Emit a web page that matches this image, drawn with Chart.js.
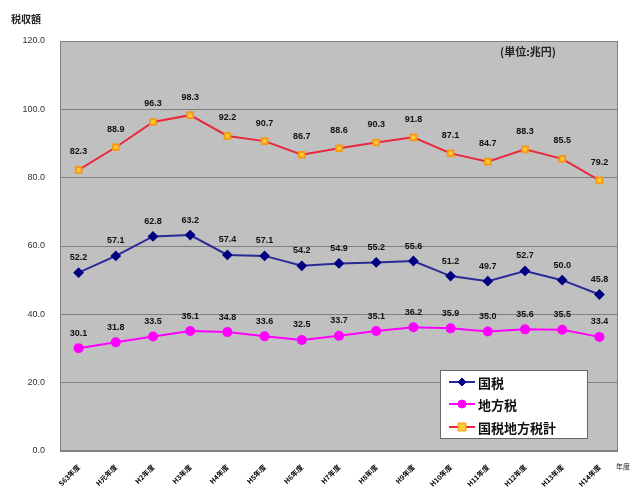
<!DOCTYPE html>
<html>
<head>
<meta charset="utf-8">
<script src="https://cdn.jsdelivr.net/npm/chart.js@4"></script>
<style>
  html, body { margin: 0; padding: 0; background: #ffffff; }
  #wrap { width: 640px; height: 491px; position: relative; }
</style>
</head>
<body>
<div id="wrap"><canvas id="chart" width="640" height="491"></canvas></div>
<script>
// ---- data (兆円) ----
const years = ['S63年度', 'H元年度', 'H2年度', 'H3年度', 'H4年度', 'H5年度', 'H6年度', 'H7年度',
    'H8年度', 'H9年度', 'H10年度', 'H11年度', 'H12年度', 'H13年度', 'H14年度'];
const kokuzei = [52.2, 57.1, 62.8, 63.2, 57.4, 57.1, 54.2, 54.9, 55.2, 55.6, 51.2, 49.7, 52.7, 50.0, 45.8];
const chihouzei = [30.1, 31.8, 33.5, 35.1, 34.8, 33.6, 32.5, 33.7, 35.1, 36.2, 35.9, 35.0, 35.6, 35.5, 33.4];
const goukei = [82.3, 88.9, 96.3, 98.3, 92.2, 90.7, 86.7, 88.6, 90.3, 91.8, 87.1, 84.7, 88.3, 85.5, 79.2];
const yTicks = [0, 20, 40, 60, 80, 100, 120];
const seriesNames = ['国税', '地方税', '国税地方税計'];

const JP = '"Noto Sans CJK JP", "Liberation Sans", sans-serif';

// grey plot area with frame
const plotBg = {
    id: 'plotBg',
    beforeDraw(chart) {
        const { ctx, chartArea: a } = chart;
        ctx.save();
        ctx.fillStyle = '#c0c0c0';
        ctx.fillRect(a.left, a.top, a.right - a.left, a.bottom - a.top);
        ctx.restore();
    },
    afterDatasetsDraw(chart) {
        const { ctx, chartArea: a } = chart;
        ctx.save();
        ctx.strokeStyle = '#808080';
        ctx.lineWidth = 1;
        ctx.strokeRect(a.left + 0.5, a.top + 0.5, a.right - a.left - 1, a.bottom - a.top - 1);
        ctx.restore();
    }
};

// value labels above each point
const valueLabels = {
    id: 'valueLabels',
    afterDatasetsDraw(chart) {
        const { ctx } = chart;
        ctx.save();
        ctx.font = 'bold 9px "Liberation Sans", Arial, sans-serif';
        ctx.fillStyle = '#111';
        ctx.textAlign = 'center';
        ctx.textBaseline = 'middle';
        chart.data.datasets.forEach((ds, i) => {
            const meta = chart.getDatasetMeta(i);
            const off = i === 2 ? 18 : 15;
            meta.data.forEach((pt, j) => {
                ctx.fillText(ds.data[j].toFixed(1), pt.x, pt.y - off);
            });
        });
        ctx.restore();
    }
};

// titles, unit and legend box
const extras = {
    id: 'extras',
    afterDraw(chart) {
        const { ctx } = chart;
        ctx.save();
        ctx.fillStyle = '#222';
        ctx.textBaseline = 'middle';
        ctx.font = 'bold 10px ' + JP;
        ctx.textAlign = 'left';
        ctx.fillText('税収額', 11, 19);
        ctx.font = 'bold 11px ' + JP;
        ctx.fillText('(単位:兆円)', 500, 52);
        ctx.font = '7px ' + JP;
        ctx.fillText('年度', 616, 466);

        // legend
        const lx = 440, ly = 370, lw = 147, lh = 68;
        ctx.fillStyle = '#ffffff';
        ctx.fillRect(lx, ly, lw, lh);
        ctx.strokeStyle = '#666';
        ctx.lineWidth = 1;
        ctx.strokeRect(lx + 0.5, ly + 0.5, lw, lh);
        const rows = [382, 404, 427];
        chart.data.datasets.forEach((ds, i) => {
            const y = rows[i];
            ctx.strokeStyle = ds.borderColor;
            ctx.lineWidth = 2;
            ctx.beginPath();
            ctx.moveTo(449, y);
            ctx.lineTo(475, y);
            ctx.stroke();
            ctx.fillStyle = ds.pointBackgroundColor;
            ctx.strokeStyle = ds.pointBorderColor;
            ctx.lineWidth = 1;
            ctx.beginPath();
            if (i === 0) {
                ctx.moveTo(462, y - 4); ctx.lineTo(466, y); ctx.lineTo(462, y + 4); ctx.lineTo(458, y);
            } else if (i === 1) {
                ctx.arc(462, y, 4, 0, Math.PI * 2);
            } else {
                ctx.rect(458, y - 4, 8, 8);
            }
            ctx.closePath();
            ctx.fill();
            ctx.stroke();
            ctx.fillStyle = '#111';
            ctx.font = 'bold 13px ' + JP;
            ctx.fillText(seriesNames[i], 478, y + 1);
        });
        ctx.restore();
    }
};

new Chart(document.getElementById('chart'), {
    type: 'line',
    data: {
        labels: years,
        datasets: [
            { label: seriesNames[0], data: kokuzei, borderColor: '#2a2a96', borderWidth: 2,
              pointStyle: 'rectRot', pointRadius: 4, pointBackgroundColor: '#000080', pointBorderColor: '#000080', tension: 0 },
            { label: seriesNames[1], data: chihouzei, borderColor: '#ff00ff', borderWidth: 2,
              pointStyle: 'circle', pointRadius: 4, pointBackgroundColor: '#ff00ff', pointBorderColor: '#ff00ff', tension: 0 },
            { label: seriesNames[2], data: goukei, borderColor: '#e8283c', borderWidth: 2,
              pointStyle: 'rect', pointRadius: 4, pointBackgroundColor: '#ffcc33', pointBorderColor: '#f59a1a', tension: 0 }
        ]
    },
    options: {
        responsive: false, animation: false,
        layout: { padding: { top: 41, right: 22, left: 0, bottom: 0 } },
        plugins: { legend: { display: false }, tooltip: { enabled: false } },
        scales: {
            x: {
                offset: true,
                grid: { display: false },
                border: { display: false },
                ticks: { color: '#000', font: { size: 7, weight: 'bold', family: JP }, maxRotation: 45, minRotation: 45, autoSkip: false, padding: 4 },
                afterFit(s) { s.height = 40; }
            },
            y: {
                min: 0, max: 120,
                afterBuildTicks(s) { s.ticks = yTicks.map(v => ({ value: v })); },
                grid: { color: '#808080', lineWidth: 1, drawTicks: false },
                border: { display: false },
                ticks: { color: '#333', font: { size: 9, family: '"Liberation Sans", Arial, sans-serif' }, padding: 15,
                    callback: v => Number(v).toFixed(1) },
                afterFit(s) { s.width = 60; }
            }
        }
    },
    plugins: [plotBg, valueLabels, extras]
});
</script>
</body>
</html>
